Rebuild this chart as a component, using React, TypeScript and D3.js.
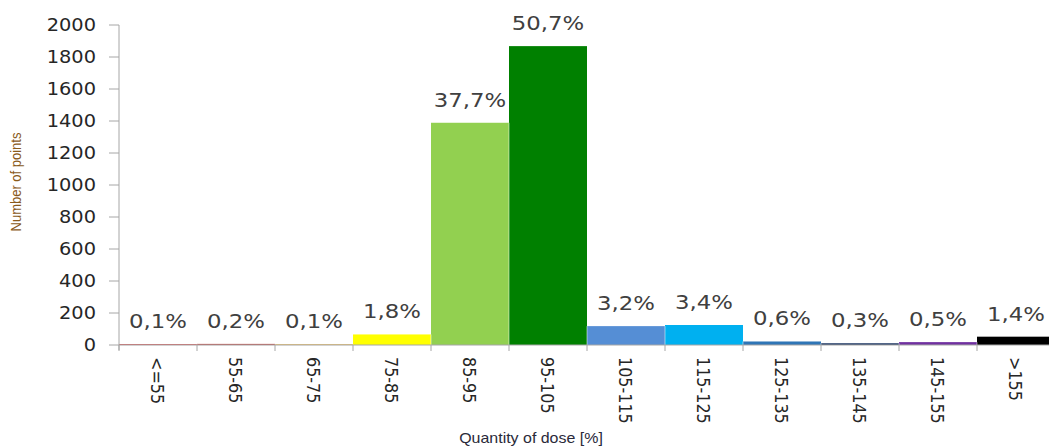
import React, { useRef, useEffect } from 'react';
import * as d3 from 'd3';

const categories = ['<=55', '55-65', '65-75', '75-85', '85-95', '95-105', '105-115', '115-125', '125-135', '135-145', '145-155', '>155'];
const counts = [4, 7, 4, 66, 1389, 1868, 118, 125, 22, 11, 18, 52];
const shares = ['0,1%', '0,2%', '0,1%', '1,8%', '37,7%', '50,7%', '3,2%', '3,4%', '0,6%', '0,3%', '0,5%', '1,4%'];
const barColors = ['#c00000', '#c0504d', '#e3a21a', '#ffff00', '#92d050', '#008000', '#558ed5', '#00b0f0', '#2e75b6', '#1f3864', '#7030a0', '#000000'];
const yTicks = [0, 200, 400, 600, 800, 1000, 1200, 1400, 1600, 1800, 2000];

const W = 1049;
const H = 448;
const left = 119;
const band = 78;
const top = 25;
const bottom = 345;
const font = 'DejaVu Sans, Verdana, sans-serif';
const stretch = 'scale(1.14, 1)';

const App: React.FC = () => {
    const svgRef = useRef<SVGSVGElement>(null);

    useEffect(() => {
        if (!svgRef.current) return;
        const svg = d3.select(svgRef.current);
        svg.selectAll('*').remove();

        const x = d3.scaleBand<string>()
            .domain(categories)
            .range([left, left + band * categories.length])
            .paddingInner(0)
            .paddingOuter(0);

        const y = d3.scaleLinear()
            .domain([0, 2000])
            .range([bottom, top]);

        // Bars
        svg.append('g')
            .selectAll('rect')
            .data(counts)
            .enter()
            .append('rect')
            .attr('x', (_d: number, i: number) => x(categories[i])!)
            .attr('y', (d: number) => y(d))
            .attr('width', x.bandwidth())
            .attr('height', (d: number) => bottom - y(d))
            .attr('fill', (_d: number, i: number) => barColors[i]);

        // thin separators between adjacent bars
        svg.append('g')
            .selectAll('line')
            .data(counts.slice(1))
            .enter()
            .append('line')
            .attr('x1', (_d: number, i: number) => x(categories[i + 1])!)
            .attr('x2', (_d: number, i: number) => x(categories[i + 1])!)
            .attr('y1', (d: number, i: number) => y(Math.min(d, counts[i])))
            .attr('y2', bottom)
            .attr('stroke', '#ffffff')
            .attr('stroke-opacity', 0.5)
            .attr('stroke-width', 1);

        // Y axis: ticks + labels
        const gy = svg.append('g');
        gy.selectAll('line')
            .data(yTicks)
            .enter()
            .append('line')
            .attr('x1', left - 10)
            .attr('x2', left)
            .attr('y1', (d: number) => y(d))
            .attr('y2', (d: number) => y(d))
            .attr('stroke', '#a6a6a6');
        gy.selectAll('text')
            .data(yTicks)
            .enter()
            .append('text')
            .attr('transform', (d: number) => `translate(${left - 23}, ${y(d)}) ${stretch}`)
            .attr('dy', '0.36em')
            .attr('text-anchor', 'end')
            .attr('font-family', font)
            .attr('font-size', '17px')
            .attr('fill', '#262626')
            .text((d: number) => d3.format('d')(d));

        svg.append('line')
            .attr('x1', left).attr('x2', left)
            .attr('y1', top).attr('y2', bottom + 5)
            .attr('stroke', '#a6a6a6');

        // X axis
        svg.append('line')
            .attr('x1', left).attr('x2', W)
            .attr('y1', bottom).attr('y2', bottom)
            .attr('stroke', '#a6a6a6');

        svg.append('g')
            .selectAll('line')
            .data(categories)
            .enter()
            .append('line')
            .attr('x1', (d: string) => x(d)!)
            .attr('x2', (d: string) => x(d)!)
            .attr('y1', bottom)
            .attr('y2', bottom + 6)
            .attr('stroke', '#a6a6a6');

        svg.append('g')
            .selectAll('text')
            .data(categories)
            .enter()
            .append('text')
            .attr('transform', (d: string) => `translate(${x(d)! + x.bandwidth() / 2 - 7}, ${bottom + 12}) scale(1.14, 1) rotate(90)`)
            .attr('font-family', font)
            .attr('font-size', '16px')
            .attr('fill', '#262626')
            .attr('text-anchor', 'start')
            .text((d: string) => d);

        // Value labels
        svg.append('g')
            .selectAll('text')
            .data(shares)
            .enter()
            .append('text')
            .attr('transform', (_d: string, i: number) =>
                `translate(${x(categories[i])! + x.bandwidth() / 2}, ${y(counts[i]) - 16}) ${stretch}`)
            .attr('font-family', font)
            .attr('font-size', '20px')
            .attr('fill', '#404040')
            .attr('text-anchor', 'middle')
            .text((d: string) => d);

        // Axis titles
        svg.append('text')
            .attr('transform', `translate(21, ${(top + bottom) / 2 - 3}) scale(1.14, 1) rotate(-90)`)
            .attr('font-family', 'Liberation Sans, Arial, sans-serif')
            .attr('font-size', '13px')
            .attr('fill', '#8a5a1a')
            .attr('text-anchor', 'middle')
            .text('Number of points');

        svg.append('text')
            .attr('transform', `translate(531, 443) ${stretch}`)
            .attr('font-family', 'Liberation Sans, Arial, sans-serif')
            .attr('font-size', '14px')
            .attr('fill', '#2a2a3a')
            .attr('text-anchor', 'middle')
            .text('Quantity of dose [%]');
    }, []);

    return (
        <div style={{ position: 'absolute', left: 0, top: 0, width: W, height: H, background: '#fff' }}>
            <svg ref={svgRef} width={W} height={H} style={{ display: 'block' }} />
        </div>
    );
};

export default App;
